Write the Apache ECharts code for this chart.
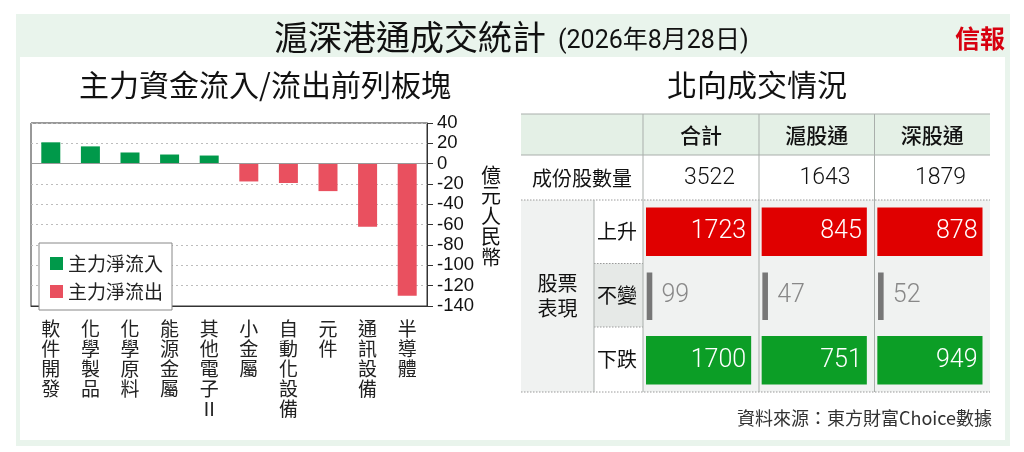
<!DOCTYPE html>
<html>
<head>
<meta charset="utf-8">
<script src="https://cdn.jsdelivr.net/npm/echarts@6/dist/echarts.min.js"></script>
<style>
html,body{margin:0;padding:0;background:#fff;}
#c{width:1024px;height:452px;}
</style>
</head>
<body>
<div id="c"></div>
<script>
// ---- data ----
const sectors = ['軟件開發','化學製品','化學原料','能源金屬','其他電子Ⅱ','小金屬','自動化設備','元件','通訊設備','半導體'];
const inflow  = [21, 17, 11, 9, 8, '-', '-', '-', '-', '-'];
const outflow = ['-', '-', '-', '-', '-', -17.5, -19, -27, -62, -130];
const yTicks = {min: -140, max: 40, interval: 20};

const tableCols = ['合計', '滬股通', '深股通'];
const constituents = [3522, 1643, 1879];
const perfRows = ['上升', '不變', '下跌'];
const upCounts = [1723, 845, 878];
const flatCounts = [99, 47, 52];
const downCounts = [1700, 751, 949];

// ---- layout / styles ----
const CJK = '"Noto Sans CJK TC","Noto Sans CJK SC",sans-serif';
const NUM = 'Roboto,"Liberation Sans",sans-serif';
const colEdges = [643, 759, 874.5, 990];
const tLeft = 521, subX = 594;
const rowY = {top: 114, head: 155, cons: 200, up: 263.5, flat: 327, bottom: 392};

const perfData = [];
[upCounts, flatCounts, downCounts].forEach((arr, r) => {
  arr.forEach((v, c) => perfData.push([c, r, v]));
});

const g = [];
// frame
g.push({type:'rect', z:-20, shape:{x:16,y:14,width:994,height:432}, style:{fill:'#e9f4ec'}});
g.push({type:'rect', z:-19, shape:{x:20,y:57,width:985,height:383}, style:{fill:'#ffffff'}});
// titles
g.push({type:'text', z:1, x:274, y:37, style:{text:'滬深港通成交統計', font:'34px '+CJK, fill:'#111', textAlign:'left', textVerticalAlign:'middle'}});
g.push({type:'text', z:1, x:558, y:42, style:{text:'(2026年8月28日)', font:'25px '+NUM+','+CJK, fill:'#111', textAlign:'left', textVerticalAlign:'middle'}});
g.push({type:'text', z:1, x:980, y:38, style:{text:'信報', font:'bold 25px '+CJK, fill:'#d7000f', textAlign:'center', textVerticalAlign:'middle'}});
g.push({type:'text', z:1, x:265, y:85, style:{text:'主力資金流入/流出前列板塊', font:'30px '+CJK, fill:'#111', textAlign:'center', textVerticalAlign:'middle'}});
g.push({type:'text', z:1, x:757, y:85, style:{text:'北向成交情況', font:'30px '+CJK, fill:'#111', textAlign:'center', textVerticalAlign:'middle'}});
// y axis name
g.push({type:'text', z:1, x:491, y:216, style:{text:'億\n元\n人\n民\n幣', font:'20px '+CJK, lineHeight:20.5, fill:'#111', textAlign:'center', textVerticalAlign:'middle'}});
// footer
g.push({type:'text', z:1, x:992, y:418, style:{text:'資料來源：東方財富Choice數據', font:'18px '+CJK, fill:'#333', textAlign:'right', textVerticalAlign:'middle'}});

// table backgrounds
g.push({type:'rect', z:-5, shape:{x:tLeft,y:rowY.top,width:colEdges[3]-tLeft,height:rowY.head-rowY.top}, style:{fill:'#e4f0e6'}});
g.push({type:'rect', z:-5, shape:{x:tLeft,y:rowY.cons,width:colEdges[3]-tLeft,height:rowY.bottom-rowY.cons}, style:{fill:'#f0f2f1'}});
g.push({type:'rect', z:-4, shape:{x:subX,y:rowY.cons,width:colEdges[0]-subX,height:rowY.up-rowY.cons}, style:{fill:'#ffffff'}});
g.push({type:'rect', z:-4, shape:{x:subX,y:rowY.up,width:colEdges[0]-subX,height:rowY.flat-rowY.up}, style:{fill:'#e6e9e7'}});
g.push({type:'rect', z:-4, shape:{x:subX,y:rowY.flat,width:colEdges[0]-subX,height:rowY.bottom-rowY.flat}, style:{fill:'#ffffff'}});
// table lines
const solid = {stroke:'#a9aeab', lineWidth:1};
const dotted = {stroke:'#9a9a9a', lineWidth:1, lineDash:[1.5,1.5]};
g.push({type:'line', z:-3, shape:{x1:tLeft,y1:rowY.top,x2:colEdges[3],y2:rowY.top}, style:solid});
g.push({type:'line', z:-3, shape:{x1:tLeft,y1:rowY.head,x2:colEdges[3],y2:rowY.head}, style:solid});
g.push({type:'line', z:-3, shape:{x1:tLeft,y1:rowY.cons,x2:colEdges[3],y2:rowY.cons}, style:dotted});
g.push({type:'line', z:-3, shape:{x1:tLeft,y1:rowY.bottom,x2:colEdges[3],y2:rowY.bottom}, style:dotted});
g.push({type:'line', z:-3, shape:{x1:subX,y1:rowY.up,x2:colEdges[0],y2:rowY.up}, style:dotted});
g.push({type:'line', z:-3, shape:{x1:subX,y1:rowY.flat,x2:colEdges[0],y2:rowY.flat}, style:dotted});
g.push({type:'line', z:-3, shape:{x1:subX,y1:rowY.cons,x2:subX,y2:rowY.bottom}, style:solid});
for (let i = 0; i < 3; i++) {
  g.push({type:'line', z:-3, shape:{x1:colEdges[i],y1:rowY.top,x2:colEdges[i],y2:rowY.bottom}, style:solid});
}
// table header / row labels
tableCols.forEach((name, i) => {
  const cx = (colEdges[i] + colEdges[i+1]) / 2;
  g.push({type:'text', z:1, x:cx, y:135, style:{text:name, font:'500 21px '+CJK, fill:'#111', textAlign:'center', textVerticalAlign:'middle'}});
  g.push({type:'text', z:1, x:colEdges[i+1]-24, y:178, style:{text:String(constituents[i]), font:'300 23px '+NUM, fill:'#111', textAlign:'right', textVerticalAlign:'middle'}});
});
g.push({type:'text', z:1, x:582, y:178, style:{text:'成份股數量', font:'20px '+CJK, fill:'#111', textAlign:'center', textVerticalAlign:'middle'}});
g.push({type:'text', z:1, x:557.5, y:296, style:{text:'股票\n表現', font:'20px '+CJK, lineHeight:25, fill:'#111', textAlign:'center', textVerticalAlign:'middle'}});
const subYs = [(rowY.cons+rowY.up)/2, (rowY.up+rowY.flat)/2, (rowY.flat+rowY.bottom)/2];
perfRows.forEach((name, i) => {
  g.push({type:'text', z:1, x:617, y:subYs[i], style:{text:name, font:'20px '+CJK, fill:'#111', textAlign:'center', textVerticalAlign:'middle'}});
});

const option = {
  animation: false,
  backgroundColor: '#ffffff',
  graphic: g,
  grid: [
    {left:31, top:123, width:396, height:183, show:true, backgroundColor:'#ffffff', borderColor:'#333', borderWidth:1},
    {left:colEdges[0], top:rowY.cons, width:colEdges[3]-colEdges[0], height:rowY.bottom-rowY.cons, show:false}
  ],
  legend: {
    left:39, top:243, orient:'vertical',
    padding:[11, 9, 9, 11], itemGap:9, itemWidth:13, itemHeight:13,
    backgroundColor:'#ffffff', borderColor:'#888', borderWidth:1,
    icon:'rect',
    textStyle:{fontFamily:CJK, fontSize:19, color:'#222'},
    data:['主力淨流入','主力淨流出']
  },
  xAxis: [
    {
      type:'category', gridIndex:0, data:sectors,
      axisLine:{onZero:false, lineStyle:{color:'#333'}},
      axisTick:{alignWithLabel:true, length:6, lineStyle:{color:'#333'}},
      axisLabel:{interval:0, margin:13, fontFamily:CJK, fontSize:19, lineHeight:20, color:'#222',
        formatter: v => v.split('').join('\n')},
      splitLine:{show:false}
    },
    {type:'category', gridIndex:1, data:tableCols, show:false}
  ],
  yAxis: [
    {
      type:'value', gridIndex:0, position:'right',
      min:yTicks.min, max:yTicks.max, interval:yTicks.interval,
      axisLine:{show:true, lineStyle:{color:'#333'}},
      axisTick:{show:true, length:6, lineStyle:{color:'#333'}},
      axisLabel:{margin:10, fontFamily:'"Liberation Sans",Arial,sans-serif', fontSize:18.5, color:'#111'},
      splitLine:{show:true, lineStyle:{color:'#bdbdbd', type:[2,3]}}
    },
    {type:'category', gridIndex:1, data:perfRows, inverse:true, show:false}
  ],
  series: [
    {
      name:'主力淨流入', type:'bar', stack:'flow', xAxisIndex:0, yAxisIndex:0,
      data:inflow, barWidth:19, itemStyle:{color:'#00994a'},
      markLine:{silent:true, symbol:'none', label:{show:false},
        lineStyle:{color:'#9a9a9a', type:'solid', width:1}, data:[{yAxis:0}]}
    },
    {
      name:'主力淨流出', type:'bar', stack:'flow', xAxisIndex:0, yAxisIndex:0,
      data:outflow, barWidth:19, itemStyle:{color:'#e9505f'}
    },
    {
      type:'custom', xAxisIndex:1, yAxisIndex:1, clip:false, silent:true,
      data: perfData,
      renderItem: function (params, api) {
        const c = api.coord([api.value(0), api.value(1)]);
        const s = api.size([1, 1]);
        const row = api.value(1), val = api.value(2);
        const left = c[0] - s[0]/2, top = c[1] - s[1]/2, w = s[0], h = s[1];
        if (row === 1) {
          return {type:'group', children:[
            {type:'rect', shape:{x:left+3.7, y:top+8.5, width:5.6, height:h-16.5}, style:{fill:'#777777'}},
            {type:'text', x:left+18.5, y:c[1], style:{text:String(val), font:'300 25px '+NUM, fill:'#888888', textAlign:'left', textVerticalAlign:'middle'}}
          ]};
        }
        const color = row === 0 ? '#e00000' : '#0c9e26';
        const bt = top + (row === 0 ? 7.5 : 8);
        const bh = h - 15.5;
        return {type:'group', children:[
          {type:'rect', shape:{x:left+3, y:bt, width:w-10.5, height:bh}, style:{fill:color}},
          {type:'text', x:left+w-12.5, y:bt+bh/2, style:{text:String(val), font:'300 25px '+NUM, fill:'#ffffff', textAlign:'right', textVerticalAlign:'middle'}}
        ]};
      }
    }
  ]
};

const chart = echarts.init(document.getElementById('c'), null, {renderer:'canvas', width:1024, height:452});
chart.setOption(option);
</script>
</body>
</html>
